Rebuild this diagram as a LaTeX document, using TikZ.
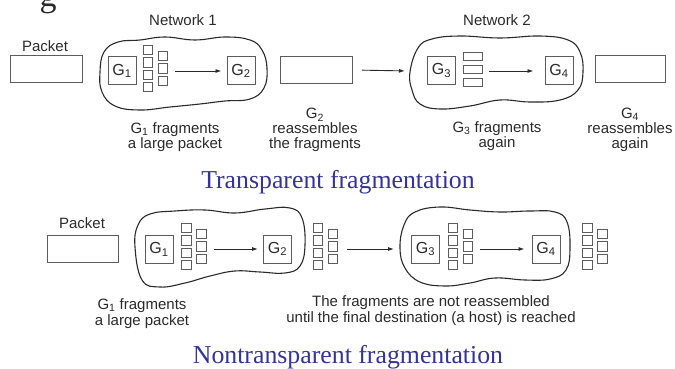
\documentclass[tikz,border=0pt]{standalone}
\usepackage{fontspec}
\setmainfont{Liberation Serif}
\setsansfont{Liberation Sans}
\usetikzlibrary{arrows.meta}
\definecolor{ink}{HTML}{2A2A2A}
\definecolor{edge}{HTML}{5C5C5C}
\definecolor{title}{HTML}{33339A}

\tikzset{
  lbl/.style={font=\sffamily\fontsize{15}{15}\selectfont, text=ink, inner sep=0pt, align=center},
  gw/.style={draw=edge, line width=1pt, minimum width=28pt, minimum height=28pt, inner sep=0pt,
    font=\sffamily\fontsize{16}{16}\selectfont, text=ink},
  pkt/.style={draw=edge, line width=1pt, minimum width=72pt, minimum height=27pt, inner sep=0pt},
  frag/.style={draw=edge, line width=1pt, minimum size=9.5pt, inner sep=0pt},
  wfrag/.style={draw=edge, line width=1pt, minimum width=19pt, minimum height=7.5pt, inner sep=0pt},
  cloud/.style={draw=ink, line width=1.1pt},
  arr/.style={draw=ink, line width=0.9pt, -{Latex[length=6pt,width=4pt]}},
  heading/.style={font=\fontsize{25.8}{26}\selectfont, text=title, inner sep=0pt, anchor=base}
}

\begin{document}
\begin{tikzpicture}[x=1pt, y=-1pt]
  \useasboundingbox (0,0) rectangle (675,369);
  \clip (0,0) rectangle (675,369);

  % leftover letter of the line above
  \node[font=\fontsize{34}{34}\selectfont, text=ink, inner sep=0pt, anchor=base] (cut) at (48,7) {g};

  % ---- transparent case ----
  \node[lbl] (net1) at (183,20) {Network 1};
  \node[lbl] (net2) at (497,20) {Network 2};

  \draw[cloud] plot[smooth cycle, tension=0.7] coordinates {
    (100,72) (104,52) (118,42) (140,40) (165,37) (195,40) (225,37) (250,40)
    (262,50) (267,68) (264,88) (250,99) (225,101) (200,104) (170,107)
    (140,110) (115,106) (102,92)};
  \draw[cloud] plot[smooth cycle, tension=0.7] coordinates {
    (410,72) (418,48) (432,39) (460,36) (500,38) (540,36) (568,40) (580,52)
    (583,72) (578,90) (560,100) (530,102) (500,100) (470,106) (440,109)
    (420,104) (412,90)};
  \coordinate (tc2w) at (410,71);

  \node[lbl] (tpl) at (45,46) {Packet};
  \node[pkt] (tp1) at (46,69.5) {};
  \node[pkt] (tp2) at (316.5,70) {};
  \node[pkt, minimum width=70pt] (tp3) at (630,69.5) {};

  \node[gw] (tg1) at (122,71) {G\textsubscript{1}};
  \node[gw] (tg2) at (241,71) {G\textsubscript{2}};
  \node[gw] (tg3) at (441.5,70.5) {G\textsubscript{3}};
  \node[gw] (tg4) at (559,71) {G\textsubscript{4}};

  % small fragments, two columns per group
  \foreach \nm/\gx/\gy in {ta/148/50, ba/186.5/228, bb/318/228, bc/453/228, bd/587.5/228} {
    \foreach \i in {0,...,3}
      \node[frag] (\nm-l\i) at (\gx, \gy+12.4*\i) {};
    \foreach \i in {0,...,2}
      \node[frag] (\nm-r\i) at (\gx+15, \gy+6.2+12.4*\i) {};
  }
  \foreach \i in {0,1,2}
    \node[wfrag] (tb-\i) at (472.5, 56.5+13*\i) {};

  \draw[arr, shorten <=7pt, shorten >=5pt] (ta-r1.east |- tg2.west) -- (tg2.west);
  \draw[arr, shorten <=9pt, shorten >=5pt] (tp2.east) -- (tc2w);
  \draw[arr, shorten <=6pt, shorten >=11pt] (tb-1.east |- tg4.west) -- (tg4.west);

  \node[lbl, anchor=north] (tn1) at (175,122) {G\textsubscript{1} fragments\\a large packet};
  \node[lbl, anchor=north] (tn2) at (315,108) {G\textsubscript{2}\\reassembles\\the fragments};
  \node[lbl, anchor=north] (tn3) at (497,121) {G\textsubscript{3} fragments\\again};
  \node[lbl, anchor=north] (tn4) at (630,108) {G\textsubscript{4}\\reassembles\\again};

  \node[heading] (head1) at (338,188) {Transparent fragmentation};

  % ---- nontransparent case ----
  \draw[cloud] plot[smooth cycle, tension=0.7] coordinates {
    (135,247) (138,225) (150,214) (175,211) (205,210) (235,213) (265,209)
    (290,208) (302,218) (305,245) (300,266) (285,273) (260,272) (235,271)
    (210,276) (185,283) (160,287) (142,280)};
  \draw[cloud] plot[smooth cycle, tension=0.7] coordinates {
    (400,248) (404,225) (415,212) (440,207) (470,210) (500,212) (530,211)
    (555,212) (567,222) (570,248) (566,270) (550,279) (525,280) (495,278)
    (470,283) (445,286) (420,282) (405,268)};
  \coordinate (bc2w) at (400,249);

  \node[lbl] (bpl) at (82,223) {Packet};
  \node[pkt, minimum width=71pt] (bp1) at (82.5,248.5) {};

  \node[gw] (bg1) at (159,249.5) {G\textsubscript{1}};
  \node[gw] (bg2) at (277.5,249) {G\textsubscript{2}};
  \node[gw] (bg3) at (425.5,249) {G\textsubscript{3}};
  \node[gw] (bg4) at (546,249) {G\textsubscript{4}};

  \draw[arr, shorten <=7pt, shorten >=5pt] (ba-r1.east |- bg2.west) -- (bg2.west);
  \draw[arr, shorten <=9pt, shorten >=6pt] (bb-r1.east |- bc2w) -- (bc2w);
  \draw[arr, shorten <=7pt, shorten >=7pt] (bc-r1.east |- bg4.west) -- (bg4.west);

  \node[lbl, anchor=north, font=\sffamily\fontsize{15}{16.5}\selectfont] (bn1) at (142,298)
    {G\textsubscript{1} fragments\\a large packet};
  \node[lbl, anchor=north, font=\sffamily\fontsize{15}{16.5}\selectfont] (bn2) at (431,295)
    {The fragments are not reassembled\\until the final destination (a host) is reached};

  \node[heading] (head2) at (348,363) {Nontransparent fragmentation};
\end{tikzpicture}
\end{document}
